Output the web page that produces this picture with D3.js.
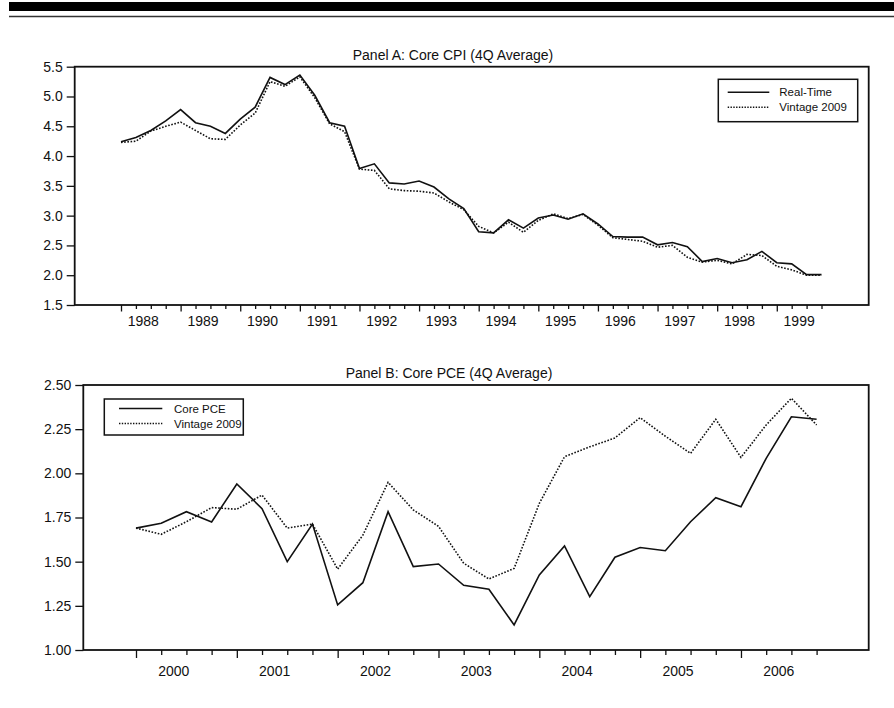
<!DOCTYPE html>
<html><head><meta charset="utf-8">
<script src="https://cdn.jsdelivr.net/npm/d3@7"></script>
<style>
body{margin:0;background:#fff;}
text{font-family:"Liberation Sans",Arial,Helvetica,sans-serif;fill:#111;}
</style></head>
<body><svg id="c" width="894" height="708"></svg>
<script>
// ---- Panel A data (quarterly, 1988Q1 - 1999Q4) ----
const yearsA = [1988,1989,1990,1991,1992,1993,1994,1995,1996,1997,1998,1999];
const realTimeA = [4.24,4.31,4.43,4.59, 4.78,4.56,4.50,4.38, 4.62,4.82,5.32,5.20,
  5.36,5.02,4.56,4.50, 3.79,3.87,3.55,3.53, 3.58,3.48,3.28,3.12,
  2.73,2.71,2.93,2.79, 2.96,3.01,2.94,3.03, 2.86,2.65,2.64,2.64,
  2.51,2.55,2.48,2.23, 2.28,2.21,2.26,2.40, 2.21,2.19,2.01,2.01];
const vintageA = [4.23,4.25,4.42,4.50, 4.57,4.43,4.29,4.28, 4.52,4.72,5.25,5.17,
  5.33,4.98,4.54,4.41, 3.78,3.76,3.45,3.42, 3.41,3.38,3.23,3.10,
  2.82,2.71,2.89,2.72, 2.92,3.03,2.95,3.02, 2.84,2.63,2.60,2.57,
  2.47,2.50,2.30,2.22, 2.25,2.19,2.35,2.33, 2.15,2.09,2.00,2.00];
const yTicksA = [1.5,2.0,2.5,3.0,3.5,4.0,4.5,5.0,5.5];
const legendA = ["Real-Time","Vintage 2009"];
const titleA = "Panel A: Core CPI (4Q Average)";

// ---- Panel B data (quarterly, 2000Q1 - 2006Q4) ----
const yearsB = [2000,2001,2002,2003,2004,2005,2006];
const corePCE = [1.69,1.717,1.783,1.725, 1.94,1.80,1.50,1.713, 1.255,1.381,1.783,1.472,
  1.487,1.366,1.344,1.142, 1.425,1.589,1.302,1.525, 1.58,1.562,1.726,1.862,
  1.811,2.085,2.32,2.306];
const vintageB = [1.69,1.655,1.726,1.806, 1.797,1.877,1.69,1.713, 1.458,1.65,1.949,1.793,
  1.70,1.491,1.402,1.462, 1.83,2.094,2.15,2.20, 2.315,2.21,2.113,2.306,
  2.09,2.274,2.425,2.274];
const yTicksB = [1.00,1.25,1.50,1.75,2.00,2.25,2.50];
const legendB = ["Core PCE","Vintage 2009"];
const titleB = "Panel B: Core PCE (4Q Average)";

const svg = d3.select("#c");

// header rule
svg.append("rect").attr("x",9).attr("y",2).attr("width",885).attr("height",9).attr("fill","#000");
svg.append("line").attr("x1",9).attr("x2",894).attr("y1",16.5).attr("y2",16.5)
  .attr("stroke","#333").attr("stroke-width",1.6);

function panel(cfg){
  const g = svg.append("g");
  const n = cfg.a.length;
  const x = d3.scaleLinear().domain([0,n-1]).range([cfg.x0,cfg.x1]);
  const y = d3.scaleLinear().domain([cfg.yt[0],cfg.yt[cfg.yt.length-1]]).range([cfg.bottom,cfg.top]);

  // frame
  g.append("rect").attr("x",cfg.left).attr("y",cfg.top)
    .attr("width",cfg.right-cfg.left).attr("height",cfg.bottom-cfg.top)
    .attr("fill","none").attr("stroke","#111").attr("stroke-width",1.8);

  // y axis
  const ya = g.append("g").attr("transform",`translate(${cfg.left},0)`)
    .call(d3.axisLeft(y).tickValues(cfg.yt).tickFormat(d3.format(cfg.fmt)).tickSize(8).tickPadding(4));
  ya.select(".domain").remove();
  ya.selectAll(".tick line").attr("stroke","#111").attr("stroke-width",1.3);
  ya.selectAll(".tick text").attr("font-size",14).attr("fill","#111")
    .attr("font-family","Liberation Sans, Arial, sans-serif");

  // x ticks (quarterly)
  const idx = d3.range(n);
  const xa = g.append("g").attr("transform",`translate(0,${cfg.bottom})`)
    .call(d3.axisBottom(x).tickValues(idx).tickFormat("").tickSizeOuter(0)
      .tickSize(cfg.minor));
  xa.select(".domain").remove();
  xa.selectAll(".tick line").attr("stroke","#111").attr("stroke-width",1.3)
    .attr("y2",d=> d%4===0 ? cfg.major : cfg.minor);

  // year labels centered on each year's quarters
  g.selectAll("text.yr").data(cfg.years).enter().append("text")
    .attr("class","yr")
    .attr("x",(d,i)=>x(i*4+1.5)).attr("y",cfg.labelY)
    .attr("text-anchor","middle").attr("font-size",14).text(d=>d);

  // lines
  const line = d3.line().x((d,i)=>x(i)).y(d=>y(d));
  g.append("path").datum(cfg.b).attr("d",line).attr("fill","none")
    .attr("stroke","#111").attr("stroke-width",1.6).attr("stroke-dasharray","1.6,1.6");
  g.append("path").datum(cfg.a).attr("d",line).attr("fill","none")
    .attr("stroke","#111").attr("stroke-width",1.6);

  // title
  g.append("text").attr("x",cfg.titleX).attr("y",cfg.titleY).attr("text-anchor","middle")
    .attr("font-size",14).text(cfg.title);

  // legend
  const L = cfg.leg;
  g.append("rect").attr("x",L.x).attr("y",L.y).attr("width",L.w).attr("height",L.h)
    .attr("fill","#fff").attr("stroke","#111").attr("stroke-width",1.5);
  cfg.legend.forEach((t,i)=>{
    const yy = L.y + L.r0 + i*15;
    g.append("line").attr("x1",L.x+L.l0).attr("x2",L.x+L.l1).attr("y1",yy).attr("y2",yy)
      .attr("stroke","#111").attr("stroke-width",1.5)
      .attr("stroke-dasharray", i===1 ? "1.4,1.4" : null);
    g.append("text").attr("x",L.x+L.tx).attr("y",yy).attr("dy","0.35em")
      .attr("font-size",11.5).text(t);
  });
}

panel({a:realTimeA,b:vintageA,years:yearsA,yt:yTicksA,fmt:".1f",
  left:74.7,right:868.7,top:66.7,bottom:305,x0:121,x1:821.5,
  minor:4,major:6.5,labelY:326,title:titleA,titleX:453,titleY:59.5,legend:legendA,
  leg:{x:718.3,y:79.3,w:139.4,h:42.4,l0:9.4,l1:51,tx:61,r0:13}});

panel({a:corePCE,b:vintageB,years:yearsB,yt:yTicksB,fmt:".2f",
  left:83.3,right:868.7,top:385,bottom:650,x0:136,x1:816.6,
  minor:5,major:8,labelY:676,title:titleB,titleX:449,titleY:377.5,legend:legendB,
  leg:{x:104.3,y:399,w:139,h:36,l0:14.7,l1:58,tx:69.7,r0:9.5}});
</script></body></html>
